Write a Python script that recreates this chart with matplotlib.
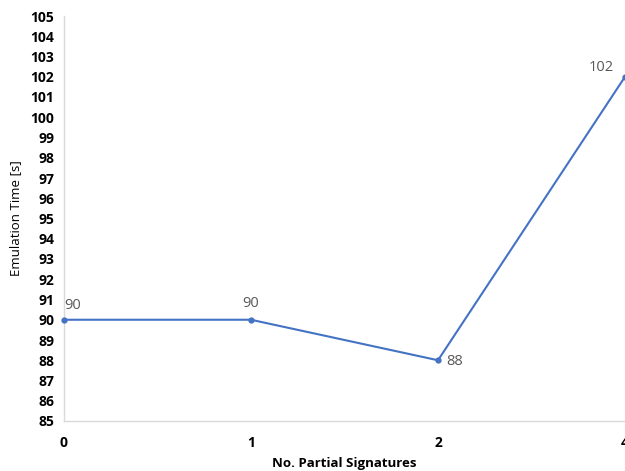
import matplotlib
matplotlib.use('Agg')
import matplotlib.pyplot as plt

# Data
categories = ['0', '1', '2', '4']
emulation_time = [90, 90, 88, 102]
y_ticks = list(range(85, 106))

plt.rcParams['font.family'] = ['Open Sans', 'DejaVu Sans']

LINE_COLOR = '#4472C4'
LABEL_COLOR = '#595959'
SPINE_COLOR = '#D9D9D9'

fig = plt.figure(figsize=(6.25, 4.71), dpi=100)
ax = fig.add_axes([64/625, 50/471, 561/625, 405/471])

x = list(range(len(categories)))
ax.plot(x, emulation_time, color=LINE_COLOR, linewidth=1.5,
        marker='o', markersize=3.5, clip_on=False, zorder=3)

# Data labels, placed like the original
offsets = [(0, 5), (0, 6), (6, -1), (-26, 1)]
aligns = [('left', 'bottom'), ('center', 'bottom'), ('left', 'center'), ('left', 'bottom')]
for xi, yi, off, (ha, va) in zip(x, emulation_time, offsets, aligns):
    ax.annotate(str(yi), (xi, yi), xytext=off, textcoords='offset points',
                ha=ha, va=va, fontsize=10.5, color=LABEL_COLOR)

ax.set_xlim(0, len(categories) - 1)
ax.set_ylim(85, 105)
ax.set_xticks(x)
ax.set_xticklabels(categories)
ax.set_yticks(y_ticks)

ax.tick_params(axis='both', length=0, labelsize=10)
ax.tick_params(axis='x', pad=11)
ax.tick_params(axis='y', pad=7)
for lbl in ax.get_xticklabels() + ax.get_yticklabels():
    lbl.set_fontweight('bold')

for side in ['top', 'right']:
    ax.spines[side].set_visible(False)
for side in ['left', 'bottom']:
    ax.spines[side].set_color(SPINE_COLOR)
    ax.spines[side].set_linewidth(1.0)

ax.set_xlabel('No. Partial Signatures', fontsize=9.5, fontweight='bold', labelpad=5)
ax.set_ylabel('Emulation Time [s]', fontsize=9.5, labelpad=6)

fig.savefig('out.png', dpi=100)
